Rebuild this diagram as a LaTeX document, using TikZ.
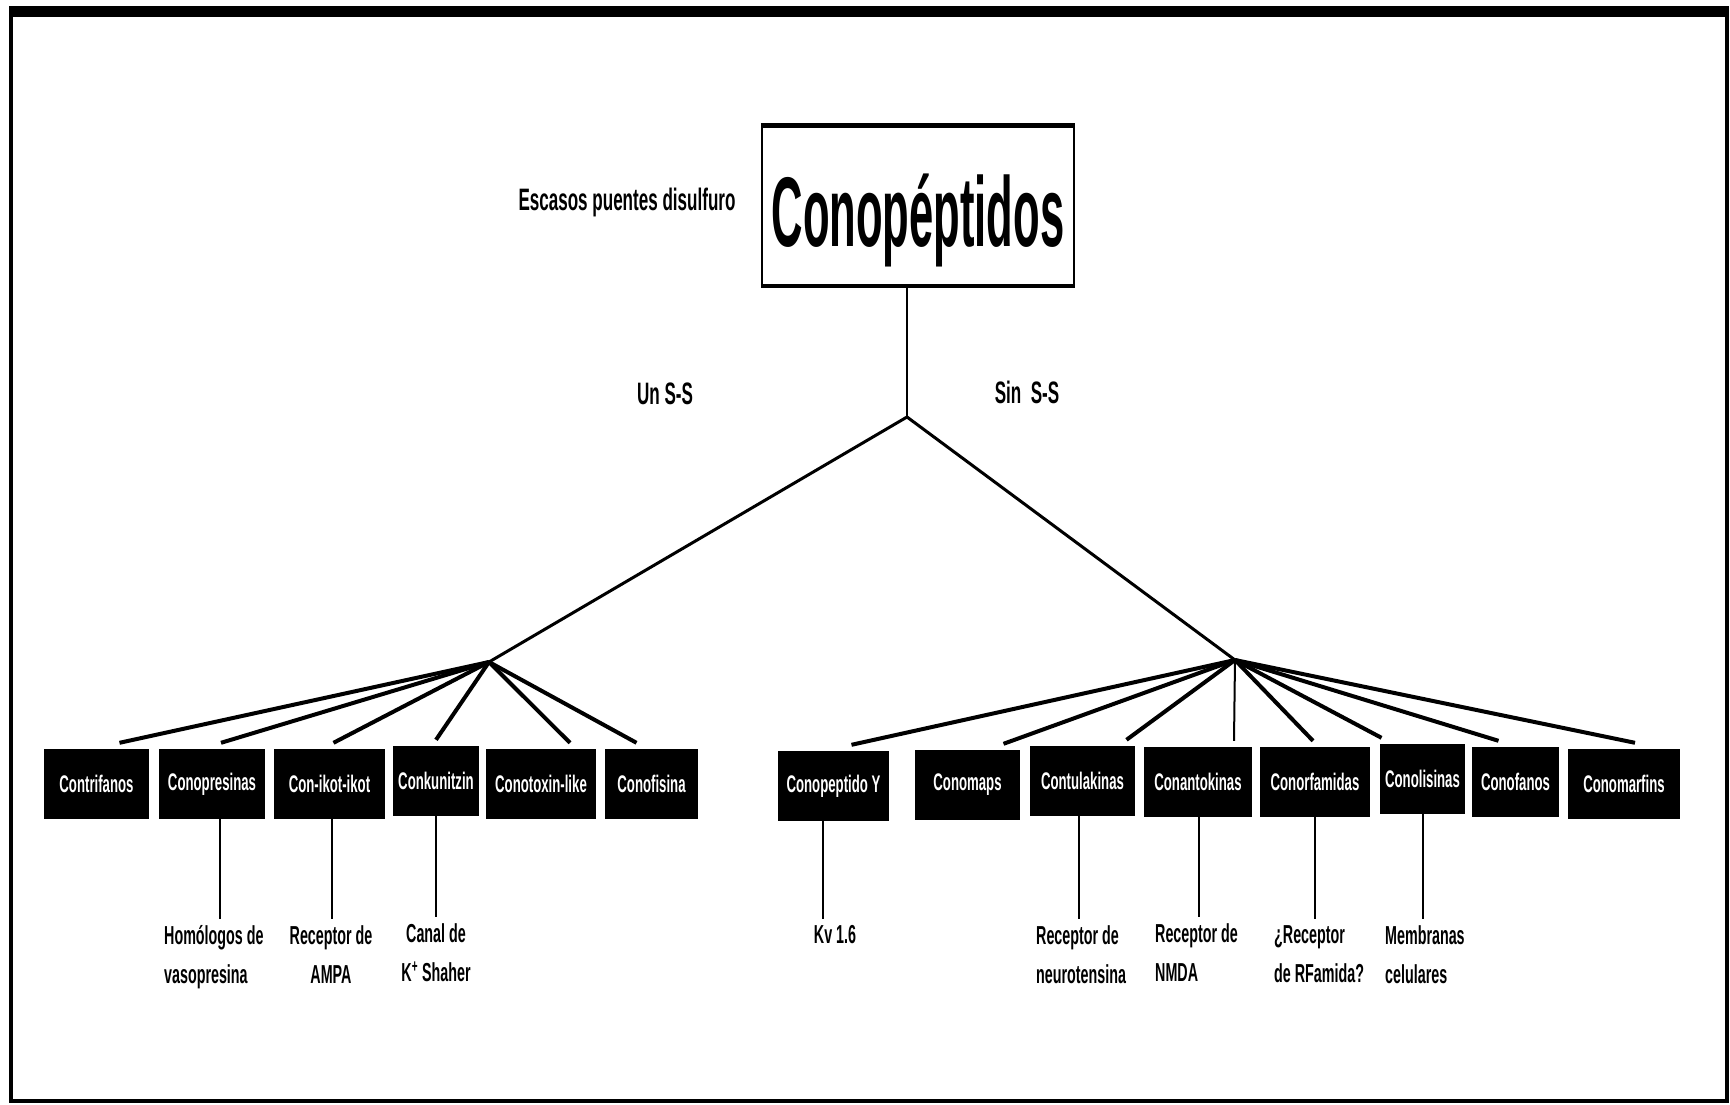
\documentclass[tikz,border=0pt]{standalone}
\usepackage{fontspec}
\newfontfamily\narrowfont{Liberation Sans}[FakeStretch=0.55]
\newfontfamily\titlefont{Liberation Sans}[FakeStretch=0.44]

\tikzset{
  famb/.style={fill=black, text=white, minimum height=70pt, inner sep=0pt,
    font=\narrowfont\bfseries\fontsize{24}{28}\selectfont},
  targ/.style={align=left, inner sep=0pt,
    font=\narrowfont\bfseries\fontsize{26}{39}\selectfont},
  lbl/.style={inner sep=0pt, font=\narrowfont\bfseries\fontsize{31}{36}\selectfont},
  fan/.style={line width=4pt},
  link/.style={line width=2pt, shorten >=6pt},
}

\begin{document}
\begin{tikzpicture}[x=1pt,y=-1pt]
  \useasboundingbox (0,0) rectangle (1730,1104);
  % marco
  \draw[line width=4pt] (11,12) rectangle (1727,1101);
  \fill (9,6) rectangle (1729,17);

  % titulo
  \node[draw, line width=2.5pt, minimum width=312pt, minimum height=158pt, inner sep=0pt] (conobox) at (918,206) {};
  \draw[line width=5pt] (conobox.north west) -- (conobox.north east);
  \draw[line width=4pt] (conobox.south west) -- (conobox.south east);
  \node[inner sep=0pt, font=\titlefont\bfseries\fontsize{99}{100}\selectfont] (cono) at ([yshift=-14pt]conobox.center) {Conopéptidos};
  \node[lbl] (esc) at (627,202) {Escasos puentes disulfuro};

  \coordinate (top) at (907,417);
  \coordinate (lj) at (489,662);
  \coordinate (rj) at (1235,660);
  \draw[line width=2pt] (conobox.south -| top) -- (top);
  \draw[line width=3pt] (lj) -- (top) -- (rj);
  \node[lbl] (un) at (665,394) {Un S-S};
  \node[lbl] (sin) at (1027,392) {Sin\ \ S-S};

  % un puente S-S
  \node[famb, minimum width=105pt] (ctf) at (96.5,784) {Contrifanos};
  \node[famb, minimum width=106pt] (cps) at (212,784) {Conopresinas};
  \node[famb, minimum width=111pt] (cik) at (329.5,784) {Con-ikot-ikot};
  \node[famb, minimum width=86pt] (ckz) at (436,781) {Conkunitzin};
  \node[famb, minimum width=110pt] (ctl) at (541,784) {Conotoxin-like};
  \node[famb, minimum width=93pt] (cfs) at (651.5,784) {Conofisina};

  \draw[fan] (lj) -- ([xshift=23pt,yshift=6pt]ctf.north);
  \draw[fan] (lj) -- ([xshift=9pt,yshift=6pt]cps.north);
  \draw[fan] (lj) -- ([xshift=4pt,yshift=6pt]cik.north);
  \draw[fan] (lj) -- ([yshift=6pt]ckz.north);
  \draw[fan] (lj) -- ([xshift=29pt,yshift=6pt]ctl.north);
  \draw[fan] (lj) -- ([xshift=-15pt,yshift=6pt]cfs.north);

  % sin puentes S-S
  \node[famb, minimum width=111pt] (cpy) at (833.5,786) {Conopeptido Y};
  \node[famb, minimum width=105pt] (cmp) at (967.5,785) {Conomaps};
  \node[famb, minimum width=105pt] (ctk) at (1082.5,781) {Contulakinas};
  \node[famb, minimum width=108pt] (cak) at (1198,782) {Conantokinas};
  \node[famb, minimum width=110pt] (crf) at (1315,782) {Conorfamidas};
  \node[famb, minimum width=85pt] (cls) at (1422.5,779) {Conolisinas};
  \node[famb, minimum width=87pt] (cfn) at (1515.5,782) {Conofanos};
  \node[famb, minimum width=112pt] (cmf) at (1624,784) {Conomarfins};

  \draw[fan] (rj) -- ([xshift=18pt,yshift=6pt]cpy.north);
  \draw[fan] (rj) -- ([xshift=36pt,yshift=6pt]cmp.north);
  \draw[fan] (rj) -- ([xshift=44pt,yshift=6pt]ctk.north);
  \draw[line width=2pt] (rj) -- ([xshift=36pt,yshift=6pt]cak.north);
  \draw[fan] (rj) -- ([xshift=-2pt,yshift=6pt]crf.north);
  \draw[fan] (rj) -- ([xshift=-41pt,yshift=6pt]cls.north);
  \draw[fan] (rj) -- ([xshift=-17pt,yshift=6pt]cfn.north);
  \draw[fan] (rj) -- ([xshift=11pt,yshift=6pt]cmf.north);

  % dianas
  \node[targ, anchor=north west] (hom) at (164,925) {Homólogos de\\vasopresina};
  \node[targ, anchor=north, align=center] (ampa) at (331,925) {Receptor de\\AMPA};
  \node[targ, anchor=north, align=center] (kch) at (436,923) {Canal de\\K\textsuperscript{+} Shaher};
  \node[targ, anchor=north] (kv) at (835,925) {Kv 1.6};
  \node[targ, anchor=north west] (neu) at (1036,925) {Receptor de\\neurotensina};
  \node[targ, anchor=north west] (nmda) at (1155,923) {Receptor de\\NMDA};
  \node[targ, anchor=north west] (rfa) at (1274,925) {¿Receptor\\de RFamida?};
  \node[targ, anchor=north west] (mem) at (1385,925) {Membranas\\celulares};

  \draw[link] ([xshift=8pt]cps.south) -- ([xshift=8pt]cps.south |- hom.north);
  \draw[link] ([xshift=2.5pt]cik.south) -- ([xshift=2.5pt]cik.south |- ampa.north);
  \draw[link] (ckz.south) -- (ckz.south |- kch.north);
  \draw[link] ([xshift=-10.5pt]cpy.south) -- ([xshift=-10.5pt]cpy.south |- kv.north);
  \draw[link] ([xshift=-3.5pt]ctk.south) -- ([xshift=-3.5pt]ctk.south |- neu.north);
  \draw[link] ([xshift=1pt]cak.south) -- ([xshift=1pt]cak.south |- nmda.north);
  \draw[link] (crf.south) -- (crf.south |- rfa.north);
  \draw[link] (cls.south) -- (cls.south |- mem.north);
\end{tikzpicture}
\end{document}
